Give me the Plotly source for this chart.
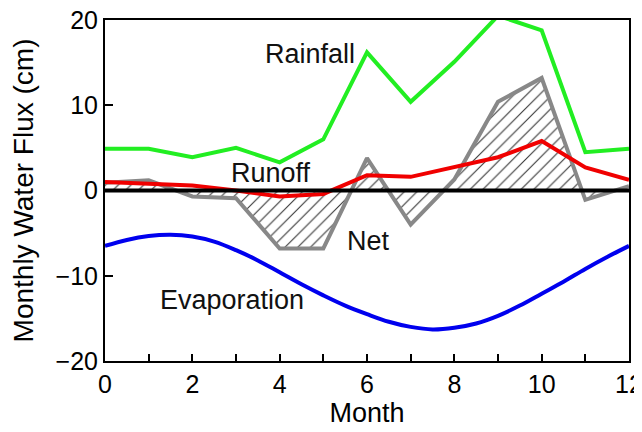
import plotly.graph_objects as go

months = [0, 1, 2, 3, 4, 5, 6, 7, 8, 9, 10, 11, 12]
rainfall = [4.9, 4.9, 3.9, 5.0, 3.3, 6.0, 16.2, 10.4, 15.1, 20.5, 18.8, 4.5, 4.9]
runoff = [1.0, 0.85, 0.6, 0.0, -0.7, -0.4, 1.8, 1.6, 2.7, 3.9, 5.8, 2.7, 1.25]
net = [0.9, 1.2, -0.7, -0.9, -6.8, -6.8, 3.8, -4.0, 1.3, 10.4, 13.2, -1.1, 0.5]

evap_months = [0, 0.5, 1, 1.5, 2, 2.5, 3, 3.5, 4, 4.5, 5, 5.5, 6, 6.5, 7, 7.5,
               8, 8.5, 9, 9.5, 10, 10.5, 11, 11.5, 12]
evaporation = [-6.5, -5.8, -5.35, -5.2, -5.4, -6.0, -7.0, -8.2, -9.6, -11.0,
               -12.3, -13.5, -14.5, -15.4, -16.0, -16.3, -16.1, -15.6, -14.7,
               -13.5, -12.1, -10.7, -9.2, -7.8, -6.5]

x_ticks = [0, 2, 4, 6, 8, 10, 12]
y_ticks = [-20, -10, 0, 10, 20]
y_tick_text = ["\u221220", "\u221210", "0", "10", "20"]

labels = ["Rainfall", "Runoff", "Net", "Evaporation"]
label_x = [4.69, 3.8, 6.04, 2.9]
label_y = [16.0, 2.0, -5.9, -12.9]

FONT = "Liberation Sans, Arial, Helvetica, sans-serif"

fig = go.Figure()

fig.add_trace(go.Scatter(
    x=months, y=net, mode="lines", fill="tozeroy",
    fillpattern=dict(shape="/", fgcolor="#333333", bgcolor="white",
                     size=9, solidity=0.12, fillmode="replace"),
    line=dict(color="#888888", width=4), hoverinfo="skip"))
fig.add_trace(go.Scatter(x=months, y=runoff, mode="lines",
                         line=dict(color="#F00000", width=4)))
fig.add_trace(go.Scatter(x=months, y=rainfall, mode="lines",
                         line=dict(color="#22EE22", width=4)))
fig.add_trace(go.Scatter(x=evap_months, y=evaporation, mode="lines",
                         line=dict(color="#0000EE", width=4, shape="spline")))

for t, xx, yy in zip(labels, label_x, label_y):
    fig.add_annotation(x=xx, y=yy, text=t, showarrow=False,
                       font=dict(family=FONT, size=27, color="#111111"))

fig.add_shape(type="line", xref="paper", yref="y", x0=0, x1=1, y0=0, y1=0,
              line=dict(color="black", width=4), layer="above")

# the page body adds an 8px offset; size and margins compensate for it
fig.update_layout(
    width=634, height=424,
    margin=dict(l=97, r=13, t=12, b=71),
    paper_bgcolor="white", plot_bgcolor="white",
    showlegend=False,
    font=dict(family=FONT, size=26, color="black"),
    xaxis=dict(range=[0, 12], tickvals=x_ticks, ticks="inside", ticklen=7,
               tickwidth=2, tickcolor="black", automargin=False,
               ticklabeloverflow="allow",
               minor=dict(dtick=1, ticks="inside", ticklen=7, tickwidth=2,
                          tickcolor="black"),
               showline=True, linecolor="black", linewidth=2, mirror=True,
               showgrid=False, zeroline=False,
               title=dict(text="Month", standoff=0, font=dict(size=27)),
               tickfont=dict(size=25)),
    yaxis=dict(range=[-20, 20], tickvals=y_ticks, ticktext=y_tick_text,
               ticks="inside", ticklen=8, tickwidth=2, tickcolor="black",
               automargin=False, ticklabeloverflow="allow",
               showline=True, linecolor="black", linewidth=2, mirror=True,
               showgrid=False, zeroline=False,
               title=dict(text="Monthly Water Flux (cm)", standoff=14,
                          font=dict(size=28)),
               tickfont=dict(size=25)),
)

fig.write_html("out.html")
